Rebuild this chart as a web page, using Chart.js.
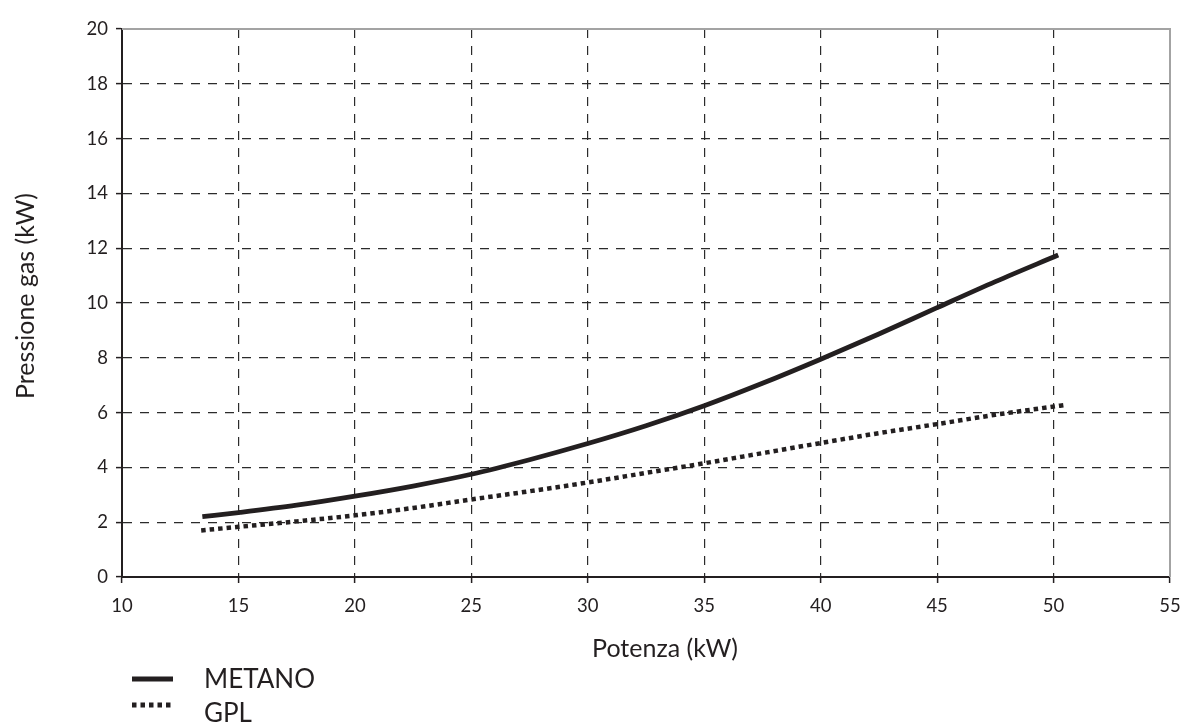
<!DOCTYPE html>
<html>
<head>
<meta charset="utf-8">
<script src="https://cdn.jsdelivr.net/npm/chart.js@4/dist/chart.umd.min.js"></script>
<style>
  html, body { margin: 0; padding: 0; background: #fff; }
  #wrap { width: 1184px; height: 725px; position: relative; }
</style>
</head>
<body>
<div id="wrap"><canvas id="c" width="1184" height="725"></canvas></div>
<script>
// ---- data ----
const metanoX = [13.45, 15, 17.5, 20, 22.5, 25, 27.5, 30, 32.5, 35, 37.5, 40, 42.5, 45, 47.5, 50.2];
const metanoY = [2.2, 2.35, 2.62, 2.95, 3.32, 3.75, 4.28, 4.87, 5.52, 6.25, 7.07, 7.95, 8.87, 9.83, 10.78, 11.75];
const gplX = [13.4, 15, 17.5, 20, 22.5, 25, 27.5, 30, 32.5, 35, 37.5, 40, 42.5, 45, 47.5, 50.5];
const gplY = [1.7, 1.83, 2.03, 2.25, 2.52, 2.83, 3.13, 3.45, 3.8, 4.15, 4.52, 4.89, 5.25, 5.58, 5.92, 6.28];
const seriesNames = ['METANO', 'GPL'];
const xTitle = 'Potenza (kW)';
const yTitle = 'Pressione gas (kW)';
const xMin = 10, xMax = 55, xStep = 5;
const yMin = 0, yMax = 20, yStep = 2;

const INK = '#231f20';
const FONT = 'Lato';

const toPts = (xs, ys) => xs.map((x, i) => ({ x: x, y: ys[i] }));

const decor = {
  id: 'decor',
  beforeDatasetsDraw(chart) {
    const { ctx, chartArea: a } = chart;
    ctx.save();
    ctx.strokeStyle = '#a3a3a3';
    ctx.lineWidth = 2;
    ctx.beginPath();
    ctx.moveTo(a.left, a.top);
    ctx.lineTo(a.right, a.top);
    ctx.lineTo(a.right, a.bottom);
    ctx.stroke();
    ctx.restore();
  },
  afterDraw(chart) {
    const { ctx } = chart;
    ctx.save();
    ctx.fillStyle = INK;
    // axis titles
    ctx.font = '25px ' + FONT;
    ctx.textAlign = 'center';
    ctx.textBaseline = 'alphabetic';
    ctx.fillText(xTitle, 665, 657);
    ctx.save();
    ctx.translate(34, 296);
    ctx.rotate(-Math.PI / 2);
    ctx.fillText(yTitle, 0, 0);
    ctx.restore();
    // legend
    const ds = chart.data.datasets;
    const rows = [{ y: 679, ty: 688 }, { y: 705, ty: 722 }];
    ds.forEach((d, i) => {
      ctx.save();
      ctx.strokeStyle = d.borderColor;
      ctx.lineWidth = 5;
      ctx.lineCap = 'butt';
      ctx.setLineDash(d.borderDash || []);
      ctx.beginPath();
      ctx.moveTo(132, rows[i].y);
      ctx.lineTo(173, rows[i].y);
      ctx.stroke();
      ctx.restore();
      ctx.font = '26px ' + FONT;
      ctx.textAlign = 'left';
      ctx.fillText(d.label, 204, rows[i].ty);
    });
    ctx.restore();
  }
};

new Chart(document.getElementById('c'), {
  type: 'line',
  data: {
    datasets: [
      {
        label: seriesNames[0],
        data: toPts(metanoX, metanoY),
        borderColor: INK,
        borderWidth: 4.8,
        pointRadius: 0,
        cubicInterpolationMode: 'monotone',
        fill: false
      },
      {
        label: seriesNames[1],
        data: toPts(gplX, gplY),
        borderColor: INK,
        borderWidth: 4.5,
        borderDash: [4.5, 4],
        borderCapStyle: 'butt',
        pointRadius: 0,
        cubicInterpolationMode: 'monotone',
        fill: false
      }
    ]
  },
  options: {
    responsive: false,
    animation: false,
    devicePixelRatio: 1,
    layout: { padding: { left: 0, top: 29, right: 14, bottom: 0 } },
    plugins: { legend: { display: false }, tooltip: { enabled: false } },
    scales: {
      x: {
        type: 'linear',
        min: xMin, max: xMax,
        afterFit: s => { s.height = 148; s.paddingLeft = 0; s.paddingRight = 0; },
        ticks: { stepSize: xStep, color: INK, font: { family: FONT, size: 18.5 }, padding: 12, maxRotation: 0 },
        grid: {
          color: c => (c.tick && c.tick.value === xMax) ? 'rgba(0,0,0,0)' : '#2b2b2b',
          lineWidth: 1.2,
          tickLength: 6,
          tickColor: INK,
          tickWidth: 1.5,
          tickBorderDash: []
        },
        border: { display: true, color: INK, width: 2, dash: [9, 8] }
      },
      y: {
        type: 'linear',
        min: yMin, max: yMax,
        afterFit: s => { s.width = 122; s.paddingTop = 0; s.paddingBottom = 0; },
        ticks: { stepSize: yStep, color: INK, font: { family: FONT, size: 18.5 }, padding: 8 },
        grid: {
          color: c => (c.tick && c.tick.value === yMax) ? 'rgba(0,0,0,0)' : '#2b2b2b',
          lineWidth: 1.2,
          tickLength: 6,
          tickColor: INK,
          tickWidth: 1.5,
          tickBorderDash: []
        },
        border: { display: true, color: INK, width: 2, dash: [9, 8] }
      }
    }
  },
  plugins: [decor]
});
</script>
</body>
</html>
